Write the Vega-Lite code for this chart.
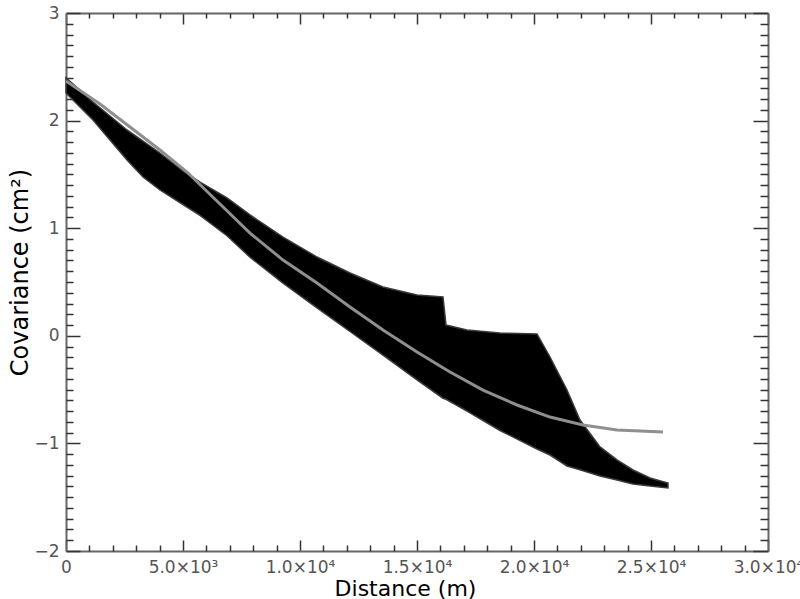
{
  "$schema": "https://vega.github.io/schema/vega-lite/v6.json",
  "width": 702,
  "height": 538,
  "autosize": {"type": "none"},
  "padding": {"left": 66, "top": 13, "right": 32, "bottom": 48},
  "background": "white",
  "config": {
    "view": {"stroke": null},
    "font": "DejaVu Sans",
    "axis": {"grid": false, "domainColor": "#666", "domainWidth": 2, "tickColor": "#333", "tickWidth": 1.5}
  },
  "datasets": {
    "env": [
      {"d": 0, "hi": 2.396, "lo": 2.257},
      {"d": 598, "hi": 2.284, "lo": 2.126},
      {"d": 1154, "hi": 2.173, "lo": 2.006},
      {"d": 1880, "hi": 2.043, "lo": 1.82},
      {"d": 2607, "hi": 1.913, "lo": 1.634},
      {"d": 3291, "hi": 1.81, "lo": 1.476},
      {"d": 4017, "hi": 1.699, "lo": 1.355},
      {"d": 5000, "hi": 1.532, "lo": 1.22},
      {"d": 5726, "hi": 1.429, "lo": 1.12},
      {"d": 6880, "hi": 1.281, "lo": 0.93},
      {"d": 7863, "hi": 1.123, "lo": 0.73},
      {"d": 9274, "hi": 0.918, "lo": 0.49},
      {"d": 10726, "hi": 0.732, "lo": 0.26},
      {"d": 12137, "hi": 0.584, "lo": 0.04},
      {"d": 13547, "hi": 0.454, "lo": -0.18},
      {"d": 15000, "hi": 0.379, "lo": -0.41},
      {"d": 16111, "hi": 0.361, "lo": -0.58},
      {"d": 16239, "hi": 0.1, "lo": -0.59},
      {"d": 17137, "hi": 0.054, "lo": -0.70},
      {"d": 18547, "hi": 0.026, "lo": -0.88},
      {"d": 20128, "hi": 0.017, "lo": -1.052},
      {"d": 20684, "hi": -0.197, "lo": -1.108},
      {"d": 21410, "hi": -0.504, "lo": -1.21},
      {"d": 21966, "hi": -0.783, "lo": -1.245},
      {"d": 22821, "hi": -1.033, "lo": -1.303},
      {"d": 23547, "hi": -1.154, "lo": -1.34},
      {"d": 24231, "hi": -1.247, "lo": -1.377},
      {"d": 24957, "hi": -1.322, "lo": -1.396},
      {"d": 25726, "hi": -1.368, "lo": -1.414}
    ],
    "fit": [
      {"d": 0, "c": 2.368},
      {"d": 1453, "c": 2.154},
      {"d": 2735, "c": 1.941},
      {"d": 4017, "c": 1.727},
      {"d": 5171, "c": 1.522},
      {"d": 6581, "c": 1.225},
      {"d": 7863, "c": 0.955},
      {"d": 9274, "c": 0.704},
      {"d": 10726, "c": 0.491},
      {"d": 12137, "c": 0.268},
      {"d": 13547, "c": 0.054},
      {"d": 15000, "c": -0.151},
      {"d": 16410, "c": -0.336},
      {"d": 17821, "c": -0.504},
      {"d": 19274, "c": -0.643},
      {"d": 20684, "c": -0.755},
      {"d": 22094, "c": -0.829},
      {"d": 23547, "c": -0.875},
      {"d": 25513, "c": -0.894}
    ]
  },
  "layer": [
    {
      "data": {"name": "env"},
      "mark": {"type": "area", "color": "black", "stroke": "#3a3a3a", "strokeWidth": 1.5},
      "encoding": {
        "x": {
          "field": "d", "type": "quantitative",
          "scale": {"domain": [0, 30000], "nice": false, "zero": false},
          "axis": {
            "orient": "bottom",
            "values": [0, 5000, 10000, 15000, 20000, 25000, 30000],
            "tickSize": -11,
            "labelPadding": 19,
            "labelOverlap": false, "labelFlush": false,
            "labelFontSize": 17, "labelColor": "#555", "labelFont": "DejaVu Sans",
            "labelExpr": "datum.value === 0 ? '0' : datum.value === 5000 ? '5.0×10³' : datum.value === 10000 ? '1.0×10⁴' : datum.value === 15000 ? '1.5×10⁴' : datum.value === 20000 ? '2.0×10⁴' : datum.value === 25000 ? '2.5×10⁴' : '3.0×10⁴'",
            "title": "Distance (m)",
            "titleFontSize": 22, "titleFontWeight": "normal", "titleColor": "black", "titleFont": "DejaVu Sans",
            "titleX": 339, "titleY": 44, "titleBaseline": "alphabetic", "titleAlign": "center", "titleAnchor": null
          }
        },
        "y": {
          "field": "lo", "type": "quantitative",
          "scale": {"domain": [-2, 3], "nice": false, "zero": false},
          "axis": {
            "orient": "left",
            "values": [-2, -1, 0, 1, 2, 3],
            "tickSize": -14,
            "labelPadding": 21,
            "labelOverlap": false, "labelFlush": false,
            "labelFontSize": 17, "labelColor": "#555", "labelFont": "DejaVu Sans",
            "labelExpr": "datum.value < 0 ? '−' + format(-datum.value, 'd') : format(datum.value, 'd')",
            "title": "Covariance (cm²)",
            "titleFontSize": 24, "titleFontWeight": "normal", "titleColor": "black", "titleFont": "DejaVu Sans",
            "titleX": -39, "titleY": 259, "titleBaseline": "alphabetic", "titleAlign": "center", "titleAngle": -90, "titleAnchor": null
          }
        },
        "y2": {"field": "hi"}
      }
    },
    {
      "data": {"name": "fit"},
      "mark": {"type": "line", "color": "#8f8f8f", "strokeWidth": 3},
      "encoding": {
        "x": {
          "field": "d", "type": "quantitative",
          "axis": {"orient": "top", "values": [0, 5000, 10000, 15000, 20000, 25000, 30000], "labels": false, "title": null, "tickSize": -11}
        },
        "y": {
          "field": "c", "type": "quantitative",
          "axis": {"orient": "right", "values": [-2, -1, 0, 1, 2, 3], "labels": false, "title": null, "tickSize": -15}
        }
      }
    },
    {
      "data": {"name": "fit"},
      "mark": {"type": "point", "opacity": 0},
      "encoding": {
        "x": {
          "field": "d", "type": "quantitative",
          "axis": {"orient": "bottom", "values": [1000,2000,3000,4000,6000,7000,8000,9000,11000,12000,13000,14000,16000,17000,18000,19000,21000,22000,23000,24000,26000,27000,28000,29000], "labels": false, "title": null, "tickSize": -6, "domain": false}
        },
        "y": {
          "field": "c", "type": "quantitative",
          "axis": {"orient": "left", "values": [-1.9,-1.8,-1.7,-1.6,-1.5,-1.4,-1.3,-1.2,-1.1,-0.9,-0.8,-0.7,-0.6,-0.5,-0.4,-0.3,-0.2,-0.1,0.1,0.2,0.3,0.4,0.5,0.6,0.7,0.8,0.9,1.1,1.2,1.3,1.4,1.5,1.6,1.7,1.8,1.9,2.1,2.2,2.3,2.4,2.5,2.6,2.7,2.8,2.9], "labels": false, "title": null, "tickSize": -7, "domain": false}
        }
      }
    },
    {
      "data": {"name": "fit"},
      "mark": {"type": "point", "opacity": 0},
      "encoding": {
        "x": {
          "field": "d", "type": "quantitative",
          "axis": {"orient": "top", "values": [1000,2000,3000,4000,6000,7000,8000,9000,11000,12000,13000,14000,16000,17000,18000,19000,21000,22000,23000,24000,26000,27000,28000,29000], "labels": false, "title": null, "tickSize": -5, "domain": false}
        },
        "y": {
          "field": "c", "type": "quantitative",
          "axis": {"orient": "right", "values": [-1.9,-1.8,-1.7,-1.6,-1.5,-1.4,-1.3,-1.2,-1.1,-0.9,-0.8,-0.7,-0.6,-0.5,-0.4,-0.3,-0.2,-0.1,0.1,0.2,0.3,0.4,0.5,0.6,0.7,0.8,0.9,1.1,1.2,1.3,1.4,1.5,1.6,1.7,1.8,1.9,2.1,2.2,2.3,2.4,2.5,2.6,2.7,2.8,2.9], "labels": false, "title": null, "tickSize": -8, "domain": false}
        }
      }
    }
  ],
  "resolve": {"axis": {"x": "independent", "y": "independent"}}
}
